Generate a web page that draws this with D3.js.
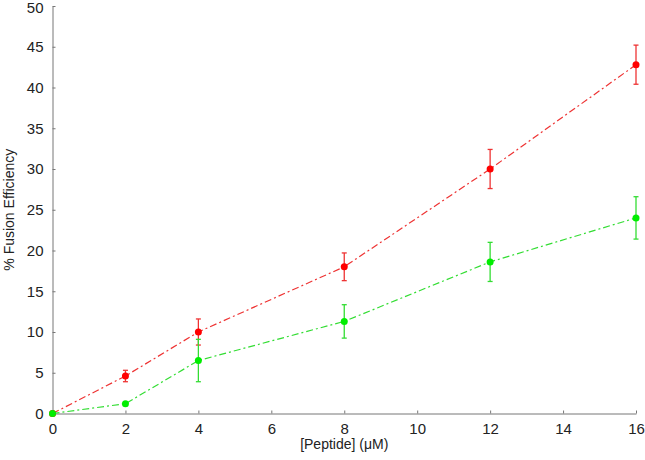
<!DOCTYPE html>
<head>
<meta charset="utf-8">
<script src="https://d3js.org/d3.v7.min.js"></script>
<style>
  body { margin: 0; background: #fff; }
  text { font-family: "Liberation Sans", Arial, sans-serif; }
</style>
</head>
<body>
<div id="my_dataviz"></div>
<script>
// data
var xValues = [0, 2, 4, 8, 12, 16];
var redValues = [0, 4.6, 10, 18, 30, 42.8];
var redErrors = [0, 0.7, 1.6, 1.7, 2.4, 2.4];
var greenValues = [0, 1.2, 6.5, 11.3, 18.6, 24];
var greenErrors = [0, 0, 2.6, 2.05, 2.4, 2.6];
var xTicks = [0, 2, 4, 6, 8, 10, 12, 14, 16];
var yTicks = [0, 5, 10, 15, 20, 25, 30, 35, 40, 45, 50];

var margin = {top: 6, right: 9, bottom: 46.5, left: 52.5},
    width = 645 - margin.left - margin.right,
    height = 460 - margin.top - margin.bottom;

var svg = d3.select("#my_dataviz")
  .append("svg")
    .attr("width", 645)
    .attr("height", 460)
  .append("g")
    .attr("transform", "translate(" + margin.left + "," + margin.top + ")");

var x = d3.scaleLinear().domain([0, 16]).range([0, width]);
var y = d3.scaleLinear().domain([0, 50]).range([height, 0]);

// axes with inward ticks
var xAxis = svg.append("g")
  .attr("transform", "translate(0," + height + ")")
  .call(d3.axisBottom(x).tickValues(xTicks).tickSize(-3).tickPadding(10).tickSizeOuter(0));
var yAxis = svg.append("g")
  .call(d3.axisLeft(y).tickValues(yTicks).tickSize(-3).tickPadding(9).tickSizeOuter(0));
[xAxis, yAxis].forEach(function(a) {
  a.selectAll("path, line").attr("stroke", "#777").attr("stroke-width", 1);
  a.selectAll("text").attr("font-size", 15).attr("fill", "#222")
    .style("font-family", "Liberation Sans, Arial, sans-serif");
});
// keep the top label inside the page
yAxis.selectAll(".tick text").filter(function(d) { return d === 50; }).attr("dy", "0.45em");

svg.append("text")
  .attr("x", width / 2)
  .attr("y", height + 35)
  .attr("text-anchor", "middle")
  .attr("font-size", 14)
  .attr("fill", "#222")
  .text("[Peptide] (\u03BCM)");

svg.append("text")
  .attr("transform", "rotate(-90)")
  .attr("x", -height / 2)
  .attr("y", -39)
  .attr("text-anchor", "middle")
  .attr("font-size", 14)
  .attr("fill", "#222")
  .text("% Fusion Efficiency");

var series = [
  {values: redValues, errors: redErrors, color: "#ff0000", line: "#ee3333"},
  {values: greenValues, errors: greenErrors, color: "#00ee00", line: "#33dd33"}
];

series.forEach(function(s) {
  var pts = xValues.map(function(d, i) { return {x: d, y: s.values[i], e: s.errors[i]}; });

  svg.append("path")
    .datum(pts)
    .attr("fill", "none")
    .attr("stroke", s.line)
    .attr("stroke-width", 1.2)
    .attr("stroke-dasharray", "7,3,2,3")
    .attr("d", d3.line().x(function(d) { return x(d.x); }).y(function(d) { return y(d.y); }));

  var eb = svg.append("g").attr("stroke", s.line).attr("stroke-width", 1.3);
  pts.filter(function(d) { return d.e > 0; }).forEach(function(d) {
    eb.append("line").attr("x1", x(d.x)).attr("x2", x(d.x))
      .attr("y1", y(d.y - d.e)).attr("y2", y(d.y + d.e));
    eb.append("line").attr("x1", x(d.x) - 2.5).attr("x2", x(d.x) + 2.5)
      .attr("y1", y(d.y - d.e)).attr("y2", y(d.y - d.e));
    eb.append("line").attr("x1", x(d.x) - 2.5).attr("x2", x(d.x) + 2.5)
      .attr("y1", y(d.y + d.e)).attr("y2", y(d.y + d.e));
  });

  svg.selectAll(null)
    .data(pts)
    .enter()
    .append("circle")
      .attr("cx", function(d) { return x(d.x); })
      .attr("cy", function(d) { return y(d.y); })
      .attr("r", 3.5)
      .attr("fill", s.color);
});
</script>
</body>
